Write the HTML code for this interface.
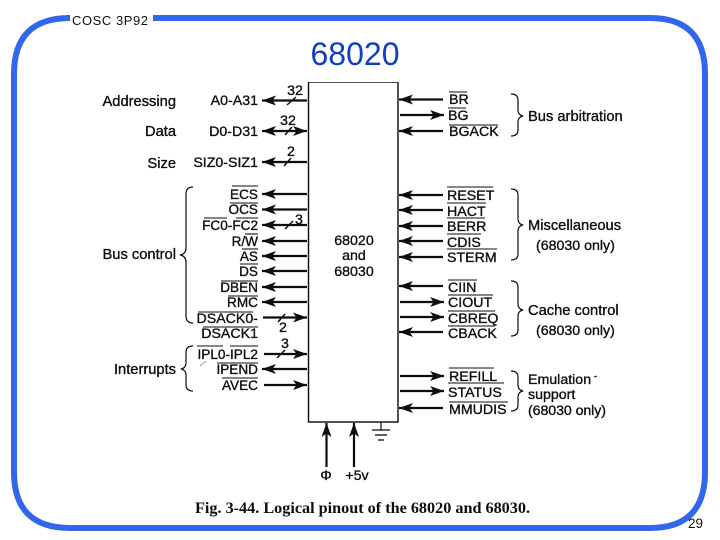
<!DOCTYPE html>
<html><head><meta charset="utf-8"><style>
html,body{margin:0;padding:0;background:#fff;width:720px;height:540px;overflow:hidden}
svg{display:block}
.s text{font-family:"Liberation Sans",Arial,sans-serif;font-size:14.2px;fill:#111;stroke:#111;stroke-width:.35}
.s text.g{font-size:14.7px}
.s text.n{font-size:13.6px}
.e{text-anchor:end}.m{text-anchor:middle}
.a line{stroke:#111;stroke-width:2.2}
.o line{stroke:#111;stroke-width:1.1}
</style></head><body>
<svg width="720" height="540" viewBox="0 0 720 540" xmlns="http://www.w3.org/2000/svg">
<defs>
<marker id="h" markerUnits="userSpaceOnUse" markerWidth="16" markerHeight="12" refX="14" refY="6" orient="auto-start-reverse"><path d="M0 1L14 6L0 11L3.500 6Z" fill="#111"/></marker>
<filter id="b" x="0" y="0" width="100%" height="100%"><feGaussianBlur stdDeviation=".35"/></filter>
</defs>
<path d="M66 18H70Q14 18 14 74V472Q14 528 70 528H650Q705 528 705 472V74Q705 18 650 18H153" fill="none" stroke="#3366ee" stroke-width="6"/>
<text x="72" y="25" font-family="Liberation Sans,Arial,sans-serif" font-size="13" textLength="76" fill="#111">COSC 3P92</text>
<text x="355" y="65" text-anchor="middle" font-family="Liberation Sans,Arial,sans-serif" font-size="32" fill="#0d3fc4">68020</text>
<text x="703" y="528" text-anchor="end" font-family="Liberation Sans,Arial,sans-serif" font-size="13.500" fill="#111">29</text>
<g class="s" filter="url(#b)">
<rect x="308.5" y="82" width="89.5" height="340" fill="none" stroke="#111" stroke-width="1.4"/>
<text class="m" x="354" y="245">68020</text><text class="m" x="354" y="260">and</text><text class="m" x="354" y="276">68030</text>
<text class="e g" x="176" y="106">Addressing</text>
<text class="e g" x="176" y="136">Data</text>
<text class="e g" x="176" y="168">Size</text>
<text class="e g" x="176" y="259">Bus control</text>
<text class="e g" x="176" y="374">Interrupts</text>
<text class="e" x="258" y="105">A0-A31</text>
<text class="e" x="258" y="136">D0-D31</text>
<text class="e" x="258" y="167">SIZ0-SIZ1</text>
<text class="e n" x="258" y="199">ECS</text>
<text class="e n" x="258" y="214">OCS</text>
<text class="e n" x="258" y="230">FC0-FC2</text>
<text class="e n" x="258" y="246">R/W</text>
<text class="e n" x="258" y="261">AS</text>
<text class="e n" x="258" y="276">DS</text>
<text class="e n" x="258" y="292">DBEN</text>
<text class="e n" x="258" y="307">RMC</text>
<text class="e" x="258" y="323">DSACK0-</text>
<text class="e" x="258" y="338">DSACK1</text>
<text class="e n" x="258" y="359">IPL0-IPL2</text>
<text class="e n" x="258" y="374">IPEND</text>
<text class="e n" x="258" y="390">AVEC</text>
<text x="449" y="104">BR</text>
<text x="448" y="120">BG</text>
<text x="449" y="136">BGACK</text>
<text x="447" y="200">RESET</text>
<text x="447" y="216">HACT</text>
<text x="447" y="231">BERR</text>
<text x="447" y="247">CDIS</text>
<text x="447" y="262">STERM</text>
<text x="448" y="292">CIIN</text>
<text x="448" y="307">CIOUT</text>
<text x="448" y="323">CBREQ</text>
<text x="448" y="338">CBACK</text>
<text x="449" y="381">REFILL</text>
<text x="448" y="397">STATUS</text>
<text x="449" y="414">MMUDIS</text>
<text class="g" x="528" y="121">Bus arbitration</text>
<text class="g" x="528" y="230">Miscellaneous</text>
<text x="536" y="250">(68030 only)</text>
<text class="g" x="528" y="315">Cache control</text>
<text x="536" y="335">(68030 only)</text>
<text x="528" y="384">Emulation</text>
<text x="528" y="399">support</text>
<text x="528" y="415" textLength="78">(68030 only)</text>
<text class="m" x="295" y="95">32</text>
<text class="m" x="288" y="125">32</text>
<text class="m" x="291" y="156">2</text>
<text class="m" x="299" y="224">3</text>
<text class="m" x="283" y="332">2</text>
<text class="m" x="285" y="348">3</text>
<text class="m" x="326" y="480">&#934;</text>
<text class="m" x="357" y="480">+5v</text>
<g class="a">
<line x1="307" y1="100.5" x2="262" y2="100.5" marker-end="url(#h)"/>
<line x1="307" y1="131" x2="262" y2="131" marker-start="url(#h)" marker-end="url(#h)"/>
<line x1="307" y1="162" x2="262" y2="162" marker-end="url(#h)"/>
<line x1="307" y1="194" x2="262" y2="194" marker-end="url(#h)"/>
<line x1="307" y1="209.5" x2="262" y2="209.5" marker-end="url(#h)"/>
<line x1="307" y1="225" x2="262" y2="225" marker-end="url(#h)"/>
<line x1="307" y1="241" x2="262" y2="241" marker-end="url(#h)"/>
<line x1="307" y1="256" x2="262" y2="256" marker-end="url(#h)"/>
<line x1="307" y1="271" x2="262" y2="271" marker-end="url(#h)"/>
<line x1="307" y1="287" x2="262" y2="287" marker-end="url(#h)"/>
<line x1="307" y1="302" x2="262" y2="302" marker-end="url(#h)"/>
<line x1="263" y1="317.500" x2="307" y2="317.500" marker-end="url(#h)"/>
<line x1="264" y1="354" x2="307" y2="354" marker-end="url(#h)"/>
<line x1="307" y1="369" x2="262" y2="369" marker-end="url(#h)"/>
<line x1="264" y1="385" x2="307" y2="385" marker-end="url(#h)"/>
<line x1="443" y1="99.500" x2="399" y2="99.500" marker-end="url(#h)"/>
<line x1="400" y1="115" x2="444" y2="115" marker-end="url(#h)"/>
<line x1="443" y1="131" x2="399" y2="131" marker-end="url(#h)"/>
<line x1="443" y1="195" x2="399" y2="195" marker-end="url(#h)"/>
<line x1="443" y1="210" x2="399" y2="210" marker-end="url(#h)"/>
<line x1="443" y1="226" x2="399" y2="226" marker-end="url(#h)"/>
<line x1="443" y1="241" x2="399" y2="241" marker-end="url(#h)"/>
<line x1="443" y1="257" x2="399" y2="257" marker-end="url(#h)"/>
<line x1="443" y1="286" x2="399" y2="286" marker-end="url(#h)"/>
<line x1="400" y1="302" x2="444" y2="302" marker-end="url(#h)"/>
<line x1="400" y1="317" x2="444" y2="317" marker-end="url(#h)"/>
<line x1="443" y1="332" x2="399" y2="332" marker-end="url(#h)"/>
<line x1="400" y1="376" x2="444" y2="376" marker-end="url(#h)"/>
<line x1="400" y1="391" x2="444" y2="391" marker-end="url(#h)"/>
<line x1="443" y1="408" x2="399" y2="408" marker-end="url(#h)"/>
<line x1="326.500" y1="467" x2="326.500" y2="423" marker-end="url(#h)"/>
<line x1="354" y1="467" x2="354" y2="423" marker-end="url(#h)"/>
<line x1="381" y1="422" x2="381" y2="430" style="stroke-width:1.2"/>
<line x1="372" y1="430" x2="390" y2="430" style="stroke-width:1.3"/>
<line x1="375" y1="435" x2="387" y2="435" style="stroke-width:1.3"/>
<line x1="378" y1="440" x2="384" y2="440" style="stroke-width:1.3"/>
<line x1="287" y1="105" x2="296" y2="97" style="stroke-width:1.5"/>
<line x1="285" y1="135" x2="292" y2="127" style="stroke-width:1.5"/>
<line x1="284" y1="166" x2="291" y2="158" style="stroke-width:1.5"/>
<line x1="285" y1="229" x2="293" y2="221" style="stroke-width:1.5"/>
<line x1="278" y1="322" x2="285" y2="314" style="stroke-width:1.5"/>
<line x1="277" y1="358" x2="285" y2="350" style="stroke-width:1.5"/>
<line x1="200" y1="366" x2="206" y2="361" style="stroke-width:.5"/>
<line x1="594" y1="377" x2="597" y2="376" style="stroke-width:1"/>
</g>
<g class="o">
<line x1="232" y1="186" x2="258" y2="186"/><line x1="230" y1="203" x2="258" y2="203"/>
<line x1="204" y1="218" x2="227" y2="218"/><line x1="236" y1="218" x2="258" y2="218"/>
<line x1="245" y1="234" x2="258" y2="234"/><line x1="242" y1="249" x2="258" y2="249"/>
<line x1="240" y1="264" x2="258" y2="264"/><line x1="221" y1="281" x2="258" y2="281"/>
<line x1="228" y1="296" x2="258" y2="296"/><line x1="198" y1="312" x2="253" y2="312"/>
<line x1="203" y1="327" x2="258" y2="327"/><line x1="197" y1="346" x2="223" y2="346"/>
<line x1="230" y1="346" x2="258" y2="346"/><line x1="217" y1="363" x2="258" y2="363"/>
<line x1="222" y1="378" x2="258" y2="378"/>
<line x1="449" y1="92" x2="467" y2="92"/><line x1="448" y1="108" x2="466" y2="108"/>
<line x1="449" y1="125" x2="498" y2="125"/><line x1="447" y1="187" x2="493" y2="187"/>
<line x1="447" y1="203" x2="486" y2="203"/><line x1="447" y1="218" x2="485" y2="218"/>
<line x1="447" y1="234" x2="481" y2="234"/><line x1="447" y1="249" x2="497" y2="249"/>
<line x1="448" y1="280" x2="477" y2="280"/><line x1="448" y1="295" x2="493" y2="295"/>
<line x1="448" y1="311" x2="495" y2="311"/><line x1="448" y1="326" x2="495" y2="326"/>
<line x1="449" y1="368" x2="494" y2="368"/><line x1="448" y1="383" x2="504" y2="383"/>
<line x1="449" y1="402" x2="508" y2="402"/>
</g>
<g fill="none" stroke="#111" stroke-width="1.2">
<path d="M193 187Q186 187 186 194V248Q186 254 180 255Q186 256 186 262V316Q186 323 193 323"/>
<path d="M193 346Q186 346 186 352V363Q186 368 181 369Q186 370 186 375V385Q186 391 193 391"/>
<path d="M511 94Q518 94 518 100V110Q518 115 523 116Q518 117 518 122V130Q518 136 511 136"/>
<path d="M511 189Q518 189 518 195V219Q518 224 523 225Q518 226 518 231V254Q518 260 511 260"/>
<path d="M511 281Q518 281 518 287V304Q518 309 523 310Q518 311 518 316V330Q518 336 511 336"/>
<path d="M511 371Q518 371 518 377V385Q518 390 523 391Q518 392 518 397V405Q518 411 511 411"/>
</g>
</g>
<text x="195" y="513" filter="url(#b)" font-family="Liberation Serif,serif" font-weight="bold" font-size="16.200" fill="#111">Fig. 3-44. Logical pinout of the 68020 and 68030.</text>
</svg>
</body></html>
